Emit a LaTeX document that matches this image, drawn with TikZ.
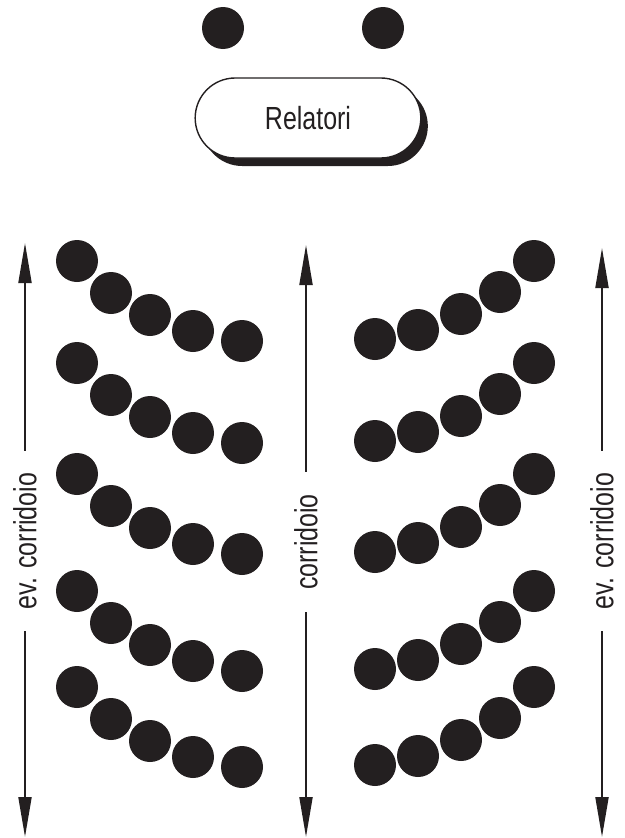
\documentclass[tikz,border=0pt]{standalone}
\usepackage{fontspec}
\setmainfont{Liberation Sans}[FakeStretch=0.78]
\usepackage{tikz}
\usepackage{xcolor}
\usetikzlibrary{arrows.meta, calc}
\usetikzlibrary{shapes.misc}
\usetikzlibrary{shadows}
\definecolor{inchiostro}{HTML}{231F20}

\tikzset{
  seat/.style={fill=inchiostro},
  relbox/.style={draw=inchiostro, line width=1.4pt, fill=white, rounded rectangle,
    minimum width=247pt, minimum height=80pt,
    drop shadow={shadow xshift=7pt, shadow yshift=-8pt, fill=inchiostro, opacity=1}},
  corrlabel/.style={rotate=90, inner xsep=22pt, inner ysep=0pt, text=inchiostro},
  corrline/.style={->, line width=2pt, draw=inchiostro}
}

\begin{document}
\begin{tikzpicture}[>={Triangle[length=40pt,width=13pt]}, x=1pt, y=-1pt]

  \useasboundingbox (0,0) rectangle (624,838);
  \fontsize{32}{38}\selectfont

  % --- Posti dei relatori ---
  \fill[seat] (223,28) circle[radius=21pt];
  \fill[seat] (383,28) circle[radius=21pt];
  \node[relbox, text=inchiostro] (relatori) at (308,118) {Relatori};

  % --- Platea: file a sinistra e a destra ---
  \foreach \y in {261,363,474,591,687} {
    \foreach \dx/\dy in {77/0, 111/32, 150/54, 193/70, 242/80}
      \fill[seat] (\dx,\y+\dy) circle[radius=21pt];
    \foreach \dx/\dy in {375/78, 418/69, 461/53, 500/31, 534/0}
      \fill[seat] (\dx,\y+\dy) circle[radius=21pt];
  }

  % --- Corridoi ---
  \coordinate (topL) at (25,243);
  \coordinate (botL) at (25,837);
  \coordinate (topM) at (306,245);
  \coordinate (botM) at (306,837);
  \coordinate (topR) at (602,248);
  \coordinate (botR) at (602,837);

  \node[corrlabel] (corrL) at (25,541) {ev. corridoio};
  \node[corrlabel] (corrM) at (306,542) {corridoio};
  \node[corrlabel] (corrR) at (602,541) {ev. corridoio};

  \draw[corrline] (corrL.east) -- (topL);
  \draw[corrline] (corrL.west) -- (botL);
  \draw[corrline] (corrM.east) -- (topM);
  \draw[corrline] (corrM.west) -- (botM);
  \draw[corrline] (corrR.east) -- (topR);
  \draw[corrline] (corrR.west) -- (botR);

\end{tikzpicture}
\end{document}
